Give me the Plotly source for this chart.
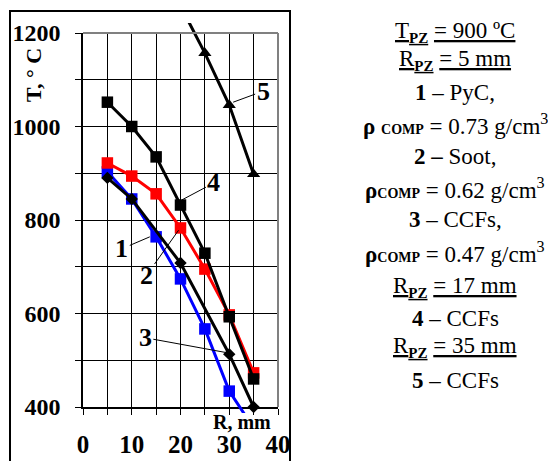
import plotly.graph_objects as go

# ---- data ----
R1 = [5, 10, 15, 20, 25, 30, 35]
T1 = [903, 845, 764, 674, 567, 434, 355]          # 1 - PyC (blue)
R2 = [5, 10, 15, 20, 25, 30, 35]
T2 = [922, 894, 856, 783, 695, 597, 473]          # 2 - Soot (red)
R3 = [5, 10, 20, 30, 35]
T3 = [890, 845, 708, 513, 400]                    # 3 - CCFs (black diamonds)
R4 = [5, 10, 15, 20, 25, 30, 35]
T4 = [1052, 1000, 935, 832, 729, 593, 460]        # 4 - CCFs, RPZ=17 (black squares)
R5 = [20, 25, 30, 35]
T5 = [1258, 1157, 1046, 898]                      # 5 - CCFs, RPZ=35 (triangles)

x_ticks = [0, 10, 20, 30, 40]
y_ticks = [400, 600, 800, 1000, 1200]

FONT = "Liberation Serif"
W, H = 548, 461
# plot-area pixel geometry
PL, PR, PT, PB = 83, 278, 33, 407
XMIN, XMAX, YMIN, YMAX = 0, 40, 400, 1200
pad_top, pad_bot = 10, 6
ppu = (PB - PT) / (YMAX - YMIN)

def py(v):
    return (H - v) / H

fig = go.Figure()

series = [
    (R1, T1, "#0000FF", "square", 11.5, "1 – PyC"),
    (R2, T2, "#FF0000", "square", 11.5, "2 – Soot"),
    (R3, T3, "black", "diamond", 9.5, "3 – CCFs"),
    (R4, T4, "black", "square", 11.5, "4 – CCFs"),
    (R5, T5, "black", "triangle-up", 11.5, "5 – CCFs"),
]
for xs, ys, col, sym, sz, name in series:
    fig.add_trace(go.Scatter(
        x=xs, y=ys, mode="lines+markers", name=name,
        line=dict(color=col, width=3),
        marker=dict(symbol=sym, size=sz, color=col, line=dict(width=0)),
        xaxis="x2", yaxis="y2", showlegend=False,
    ))

fig.update_layout(
    width=W, height=H,
    margin=dict(l=0, r=0, t=0, b=0, pad=0, autoexpand=False),
    paper_bgcolor="white", plot_bgcolor="rgba(0,0,0,0)",
    xaxis=dict(
        domain=[PL / W, PR / W], range=[XMIN, XMAX],
        tickvals=x_ticks, ticktext=[f"<b>{v}</b>" for v in x_ticks],
        tickfont=dict(family=FONT, size=25, color="black"),
        ticks="outside", ticklen=6, tickcolor="black", tickwidth=1,
        showgrid=True, gridcolor="black", gridwidth=1,
        minor=dict(dtick=5, tick0=0, showgrid=True, gridcolor="black", gridwidth=1,
                   ticks="outside", ticklen=6, tickcolor="black", tickwidth=1),
        showline=True, linecolor="black", linewidth=1.6,
        zeroline=False, ticklabelstandoff=8, automargin=False, fixedrange=True,
    ),
    yaxis=dict(
        domain=[py(PB), py(PT)], range=[YMIN, YMAX],
        tickvals=y_ticks, ticktext=[f"<b>{v}</b>" for v in y_ticks],
        tickfont=dict(family=FONT, size=24, color="black"),
        ticks="outside", ticklen=6, tickcolor="black", tickwidth=1,
        showgrid=True, gridcolor="black", gridwidth=1,
        minor=dict(dtick=100, tick0=400, showgrid=True, gridcolor="black", gridwidth=1,
                   ticks="outside", ticklen=6, tickcolor="black", tickwidth=1),
        showline=True, linecolor="black", linewidth=1.6,
        zeroline=False, ticklabelstandoff=10, automargin=False, fixedrange=True,
    ),
    xaxis2=dict(domain=[PL / W, PR / W], range=[XMIN, XMAX], visible=False,
                anchor="y2", automargin=False, fixedrange=True),
    yaxis2=dict(domain=[py(PB + pad_bot), py(PT - pad_top)],
                range=[YMIN - pad_bot / ppu, YMAX + pad_top / ppu],
                visible=False, anchor="x2", automargin=False, fixedrange=True),
)

# plot-area border (grey top/right)
fig.add_shape(type="line", xref="x domain", yref="y domain", x0=0, x1=1, y0=1, y1=1,
              line=dict(color="#808080", width=2))
fig.add_shape(type="line", xref="x domain", yref="y domain", x0=1, x1=1, y0=0, y1=1,
              line=dict(color="#808080", width=2))
# outer frame: an empty bordered box starting at (10, 11) px, running off the bottom
fig.add_annotation(text=" ", xref="paper", yref="paper", x=9 / W, y=py(10),
                   xanchor="left", yanchor="top", showarrow=False,
                   width=278, height=470, borderwidth=2, borderpad=0,
                   bordercolor="black", bgcolor="rgba(0,0,0,0)",
                   font=dict(family=FONT, size=10, color="black"))

# axis titles
fig.add_annotation(text="<b>T, ° C</b>", xref="paper", yref="paper", x=33 / W, y=py(75),
                   xanchor="center", yanchor="middle",
                   textangle=-90, showarrow=False, font=dict(family=FONT, size=22, color="black"))
fig.add_annotation(text="<b>R, mm</b>", xref="paper", yref="paper", x=242 / W, y=py(422),
                   xanchor="center", yanchor="middle",
                   showarrow=False, font=dict(family=FONT, size=20, color="black"))

# curve labels with leader lines: (text, tipR, tipT, ax, ay)
labels = [("1", 13.7, 764, -28, 12), ("2", 19.6, 778, -32, 45), ("3", 29.6, 516, -82, -15),
          ("4", 20.3, 843, 32, -17), ("5", 30.8, 1052, 30, -11)]
for t, xr, yr, ax, ay in labels:
    fig.add_annotation(text=f"<b>{t}</b>", x=xr, y=yr, xref="x", yref="y",
                       ax=ax, ay=ay, axref="pixel", ayref="pixel",
                       showarrow=True, arrowhead=0, arrowwidth=1, arrowcolor="black",
                       standoff=0, startstandoff=0,
                       font=dict(family=FONT, size=26, color="black"))

U = '<span style="text-decoration:underline">{}</span>'
PZ = '<sub><b><span style="font-size:15px">PZ</span></b></sub>'
sm = '<span style="font-size:14px">COMP</span>'
right_lines = [
    (U.format("T" + PZ) + " " + U.format("= 900 ºC"), 32),
    (U.format("R" + PZ) + " " + U.format("= 5 mm"), 60),
    ("<b>1</b> – PyC,", 93),
    ("<b>ρ</b> <b>" + sm + "</b> = 0.73 g/cm<sup>3</sup>", 125),
    ("<b>2 –</b> Soot,", 157),
    ("<b>ρ</b><b>" + sm + "</b> = 0.62 g/cm<sup>3</sup>", 188),
    ("<b>3</b> – CCFs,", 220),
    ("<b>ρ</b><b>" + sm + "</b> = 0.47 g/cm<sup>3</sup>", 252),
    (U.format("R" + PZ) + " " + U.format("= 17 mm"), 287),
    ("<b>4</b> – CCFs", 318),
    (U.format("R" + PZ) + " " + U.format("= 35 mm"), 347),
    ("<b>5</b> – CCFs", 380),
]
for txt, yc in right_lines:
    fig.add_annotation(text=txt, xref="paper", yref="paper", x=455 / W, y=py(yc),
                       showarrow=False, xanchor="center", yanchor="middle",
                       font=dict(family=FONT, size=23, color="black"))

fig.write_html("out.html", config={"displayModeBar": False, "staticPlot": True},
               post_script="document.body.style.margin='0';document.body.style.overflow='hidden';")
